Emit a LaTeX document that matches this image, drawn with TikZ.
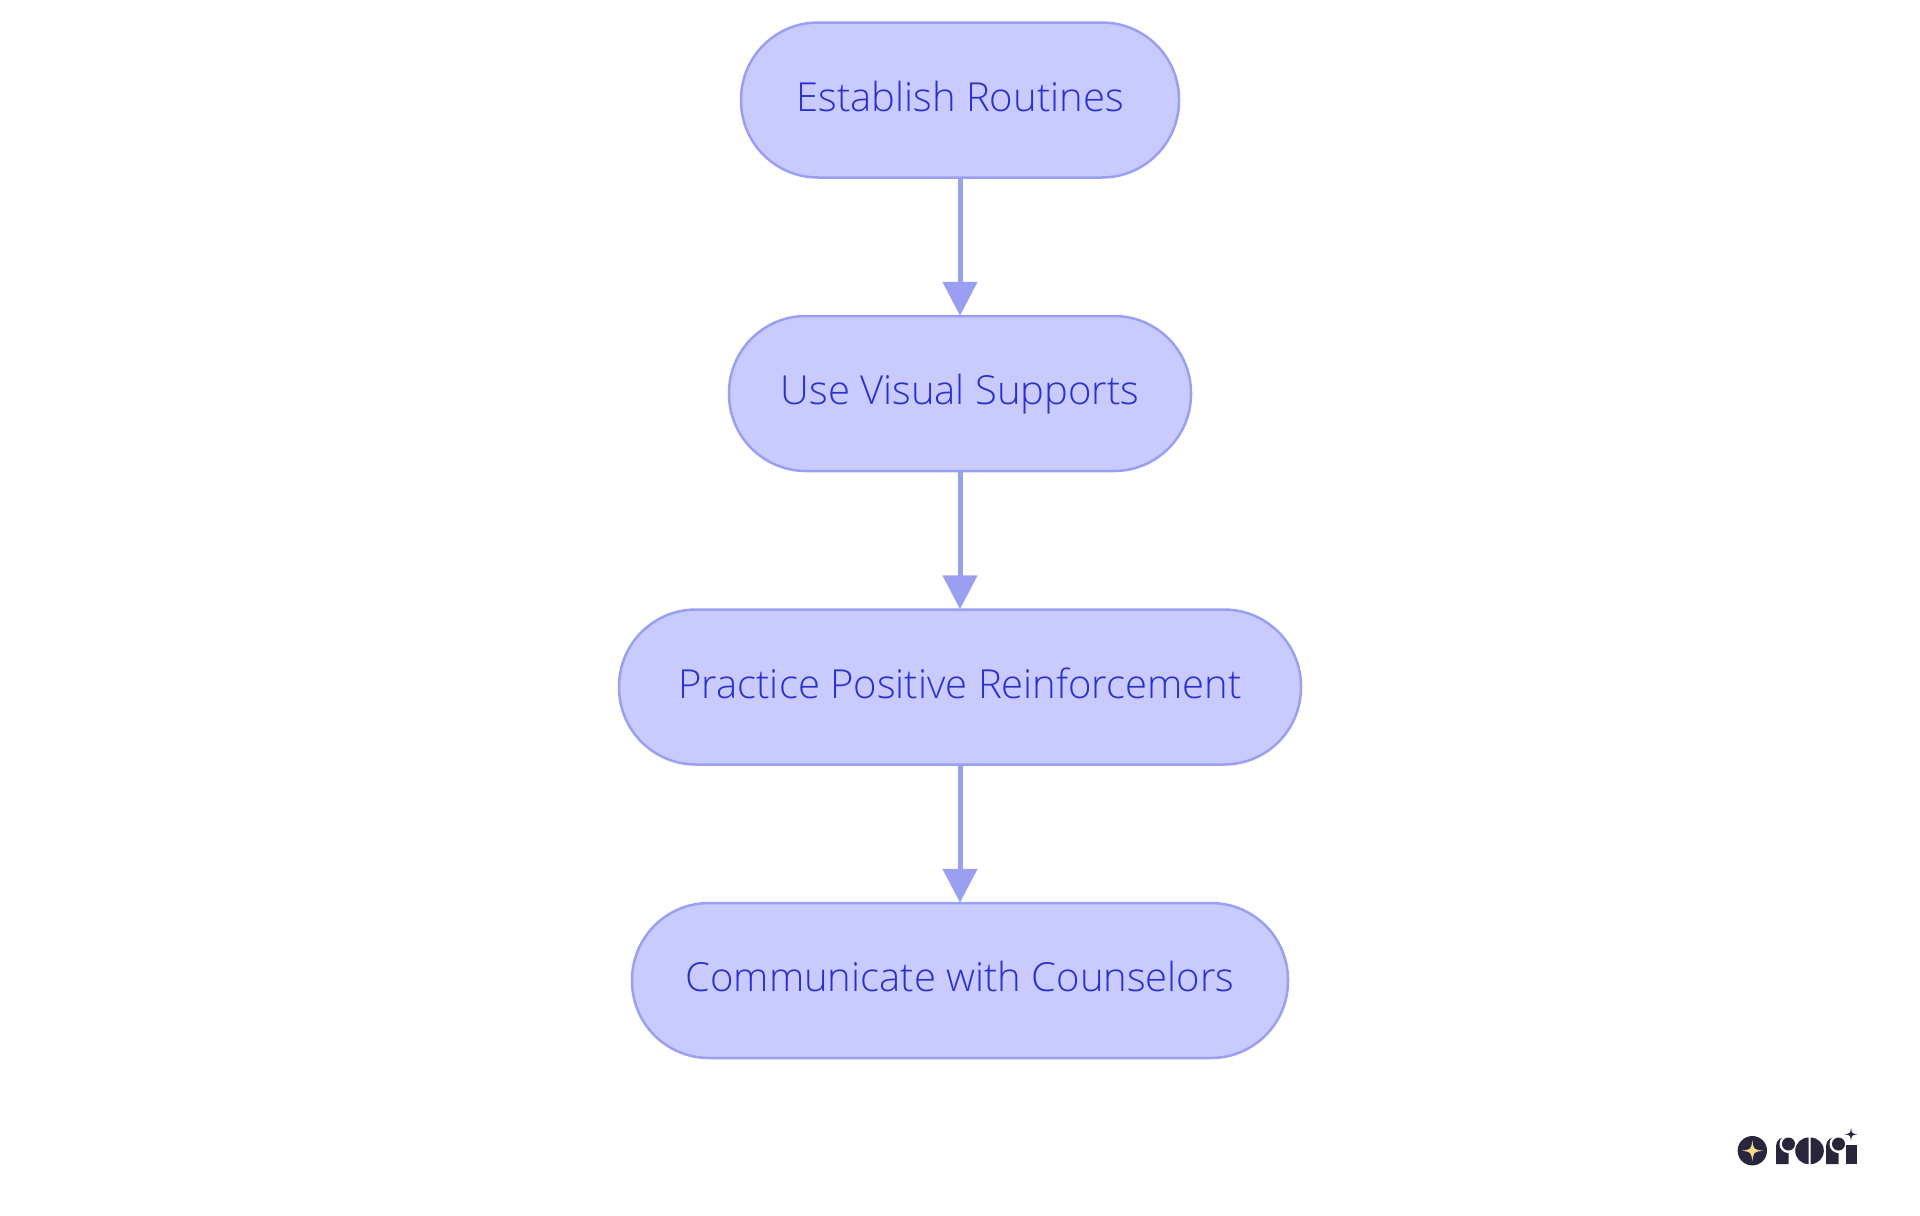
\documentclass[tikz,border=0pt]{standalone}
\usepackage{fontspec}
\setmainfont{Open Sans}[UprightFont=* Light,Ligatures=NoCommon]
\usetikzlibrary{arrows.meta,positioning}
\definecolor{boxfill}{HTML}{C9CBFF}
\definecolor{boxline}{HTML}{9B9FF1}
\definecolor{boxtext}{HTML}{2A30CC}
\definecolor{logodark}{HTML}{28263A}
\definecolor{logostar}{HTML}{FBD98A}
\tikzset{
	stepbox/.style={draw=boxline,fill=boxfill,text=boxtext,line width=1.25pt,rounded corners=38.5pt,minimum height=77.5pt,inner sep=0pt,text height=14pt,text depth=3pt,font=\fontsize{20}{24}\selectfont},
	flow/.style={draw=boxline,line width=2.5pt,-{Triangle[width=17pt,length=17pt]},shorten >=-.5pt},
	logoshape/.style={fill=logodark,draw=none}
}
\newcommand{\sparkle}[3]{(#1,#2-#3) .. controls (#1+.12*#3,#2-.12*#3) .. (#1+#3,#2) .. controls (#1+.12*#3,#2+.12*#3) .. (#1,#2+#3) .. controls (#1-.12*#3,#2+.12*#3) .. (#1-#3,#2) .. controls (#1-.12*#3,#2-.12*#3) .. cycle}
\begin{document}
\begin{tikzpicture}[x=.5pt,y=-.5pt]
	\useasboundingbox (0,0) rectangle (1920,1215);
	\node[stepbox,minimum width=219pt] (routines) at (960,100) {Establish Routines};
	\node[stepbox,minimum width=231pt,below=68pt of routines] (visual) {Use Visual Supports};
	\node[stepbox,minimum width=341pt,below=68pt of visual] (praise) {Practice Positive Reinforcement};
	\node[stepbox,minimum width=328pt,below=68pt of praise] (counselors) {Communicate with Counselors};
	\foreach \a/\b in {routines/visual,visual/praise,praise/counselors} \draw[flow] (\a)--(\b);
	% logo
	\fill[logoshape] (1752.3,1150.7) circle (14.7);
	\fill[logostar] \sparkle{1752.3}{1150.7}{10.5};
	\foreach \x in {1776,1826} {
		\fill[logoshape] (\x,1164) -- (\x,1146) .. controls (\x,1140) and (\x+5,1137) .. (\x+10,1137) -- (\x+12.5,1150) -- (\x+12.5,1164) -- cycle;
		\fill[white] (\x+12.5,1144) circle (9);
		\fill[logoshape] (\x+12.5,1144) circle (6.5);
	}
	\fill[logoshape] (1808.5,1137.5) arc[start angle=-90,end angle=-270,radius=13.3] -- cycle;
	\fill[logoshape] (1810.5,1137.5) arc[start angle=-90,end angle=90,radius=13.3] -- cycle;
	\fill[logoshape] (1846,1145) -- (1856.5,1145) -- (1856.5,1164) -- (1846,1164) -- cycle;
	\fill[logoshape] \sparkle{1851}{1134.3}{6.5};
\end{tikzpicture}
\end{document}
